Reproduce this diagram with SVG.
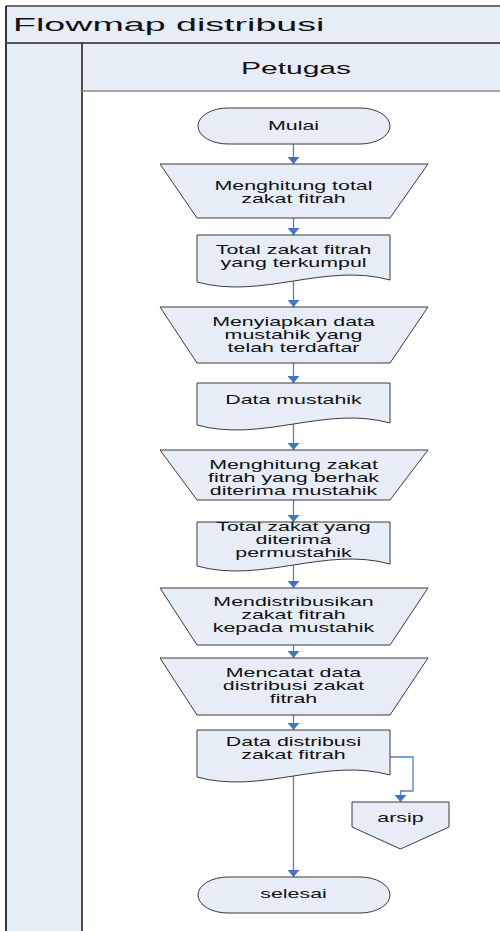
<svg xmlns="http://www.w3.org/2000/svg" width="500" height="931" viewBox="0 0 500 931">
  <style>
    .band { fill: #e6edf7; }
    .shape { fill: #e6edf7; stroke: #3a3a3a; stroke-width: 1; }
    .lbl { font-family: "Liberation Sans", Arial, sans-serif; font-size: 12.5px; fill: #111; text-anchor: middle; }
    .head { font-family: "Liberation Sans", Arial, sans-serif; fill: #111; }
    .flow { fill: none; stroke: #4f81c7; stroke-width: 1.3; marker-end: url(#tip); }
  </style>
  <defs>
    <marker id="tip" viewBox="0 0 7 12" refX="7" refY="6" markerWidth="7" markerHeight="12" markerUnits="userSpaceOnUse" orient="auto">
      <path d="M0,0 L7,6 L0,12 Z" fill="#4472c4"/>
    </marker>
  </defs>

  <!-- swimlane frame -->
  <g id="lane">
    <rect x="0" y="0" width="500" height="931" fill="#ffffff"/>
    <rect class="band" x="6" y="6" width="494" height="37"/>
    <rect class="band" x="6" y="43" width="76" height="888"/>
    <rect class="band" x="82" y="43" width="418" height="48"/>
    <line x1="6" y1="6" x2="500" y2="6" stroke="#404040" stroke-width="1.6"/>
    <line x1="6" y1="6" x2="6" y2="931" stroke="#222" stroke-width="1.8"/>
    <line x1="6" y1="43" x2="500" y2="43" stroke="#555" stroke-width="2"/>
    <line x1="82" y1="43" x2="82" y2="931" stroke="#222" stroke-width="1.6"/>
    <line x1="82" y1="91" x2="500" y2="91" stroke="#8a8a8a" stroke-width="1.5"/>
    <text class="head" font-size="17.5" transform="translate(13 31) scale(2.15 1)">Flowmap distribusi</text>
    <text class="head" font-size="16.5" text-anchor="middle" transform="translate(296 74) scale(1.82 1)">Petugas</text>
  </g>

  <!-- connectors -->
  <g id="connectors">
    <path class="flow" d="M293.5,144 V164"/>
    <path class="flow" d="M293.5,218 V235"/>
    <path class="flow" d="M293.5,281 V307"/>
    <path class="flow" d="M293.5,363 V383"/>
    <path class="flow" d="M293.5,424 V450"/>
    <path class="flow" d="M293.5,500 V522"/>
    <path class="flow" d="M293.5,564 V588"/>
    <path class="flow" d="M293.5,645 V658"/>
    <path class="flow" d="M293.5,715 V730"/>
    <path class="flow" d="M293.5,776 V877"/>
    <path class="flow" d="M390,757 H413 V791 H400.5 V802"/>
  </g>

  <g id="mulai">
    <rect class="shape" x="198" y="108" width="192" height="36" rx="30" ry="18"/>
    <g transform="translate(293.5 0) scale(1.71 1)"><text class="lbl" x="0" y="130.5">Mulai</text></g>
  </g>

  <g id="hitung-total">
    <path class="shape" d="M160,164 H428 L390,218 H197 Z"/>
    <g transform="translate(293.5 0) scale(1.71 1)">
      <text class="lbl" x="0" y="190">Menghitung total</text>
      <text class="lbl" x="0" y="203">zakat fitrah</text>
    </g>
  </g>

  <g id="total-terkumpul">
    <path class="shape" d="M197,235 H390 V280 C325,262 262,300 197,282 Z"/>
    <g transform="translate(293.5 0) scale(1.71 1)">
      <text class="lbl" x="0" y="254">Total zakat fitrah</text>
      <text class="lbl" x="0" y="267">yang terkumpul</text>
    </g>
  </g>

  <g id="siapkan-data">
    <path class="shape" d="M160,307 H428 L390,363 H197 Z"/>
    <g transform="translate(293.5 0) scale(1.71 1)">
      <text class="lbl" x="0" y="326">Menyiapkan data</text>
      <text class="lbl" x="0" y="339">mustahik yang</text>
      <text class="lbl" x="0" y="352">telah terdaftar</text>
    </g>
  </g>

  <g id="data-mustahik">
    <path class="shape" d="M197,383 H390 V423 C325,405 262,443 197,425 Z"/>
    <g transform="translate(293.5 0) scale(1.71 1)">
      <text class="lbl" x="0" y="404">Data mustahik</text>
    </g>
  </g>

  <g id="hitung-zakat">
    <path class="shape" d="M160,450 H428 L390,500 H197 Z"/>
    <g transform="translate(293.5 0) scale(1.71 1)">
      <text class="lbl" x="0" y="469">Menghitung zakat</text>
      <text class="lbl" x="0" y="482">fitrah yang berhak</text>
      <text class="lbl" x="0" y="495">diterima mustahik</text>
    </g>
  </g>

  <g id="total-permustahik">
    <path class="shape" d="M197,522 H390 V564 C325,546 262,584 197,566 Z"/>
    <g transform="translate(293.5 0) scale(1.71 1)">
      <text class="lbl" x="0" y="531">Total zakat yang</text>
      <text class="lbl" x="0" y="544">diterima</text>
      <text class="lbl" x="0" y="557">permustahik</text>
    </g>
  </g>

  <g id="distribusikan">
    <path class="shape" d="M160,588 H428 L390,645 H197 Z"/>
    <g transform="translate(293.5 0) scale(1.71 1)">
      <text class="lbl" x="0" y="606.5">Mendistribusikan</text>
      <text class="lbl" x="0" y="619.5">zakat fitrah</text>
      <text class="lbl" x="0" y="632.5">kepada mustahik</text>
    </g>
  </g>

  <g id="catat-data">
    <path class="shape" d="M160,658 H428 L390,715 H197 Z"/>
    <g transform="translate(293.5 0) scale(1.71 1)">
      <text class="lbl" x="0" y="677.5">Mencatat data</text>
      <text class="lbl" x="0" y="690.5">distribusi zakat</text>
      <text class="lbl" x="0" y="703.5">fitrah</text>
    </g>
  </g>

  <g id="data-distribusi">
    <path class="shape" d="M197,730 H390 V775 C325,757 262,795 197,777 Z"/>
    <g transform="translate(293.5 0) scale(1.71 1)">
      <text class="lbl" x="0" y="746.5">Data distribusi</text>
      <text class="lbl" x="0" y="759.5">zakat fitrah</text>
    </g>
  </g>

  <g id="arsip">
    <path class="shape" d="M352,802 H449 V827 L400.5,849 L352,827 Z"/>
    <g transform="translate(400.5 0) scale(1.71 1)">
      <text class="lbl" x="0" y="822.5">arsip</text>
    </g>
  </g>

  <g id="selesai">
    <rect class="shape" x="198" y="877" width="192" height="36" rx="30" ry="18"/>
    <g transform="translate(293.5 0) scale(1.71 1)"><text class="lbl" x="0" y="898.5">selesai</text></g>
  </g>
</svg>
